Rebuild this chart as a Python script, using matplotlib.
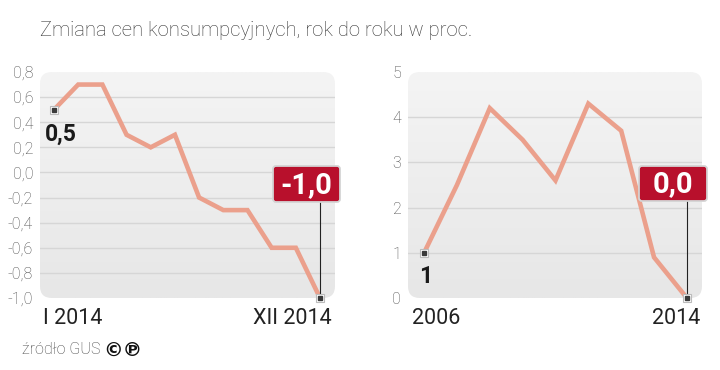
import numpy as np
import matplotlib
matplotlib.use("Agg")
import matplotlib.pyplot as plt
from matplotlib.patches import FancyBboxPatch
from matplotlib.colors import LinearSegmentedColormap

# data
months = ["I", "II", "III", "IV", "V", "VI", "VII", "VIII", "IX", "X", "XI", "XII"]
cpi_2014 = [0.5, 0.7, 0.7, 0.3, 0.2, 0.3, -0.2, -0.3, -0.3, -0.6, -0.6, -1.0]
left_ticks = [0.8, 0.6, 0.4, 0.2, 0.0, -0.2, -0.4, -0.6, -0.8, -1.0]

years = [2006, 2007, 2008, 2009, 2010, 2011, 2012, 2013, 2014]
cpi_years = [1.0, 2.5, 4.2, 3.5, 2.6, 4.3, 3.7, 0.9, 0.0]
right_ticks = [5, 4, 3, 2, 1, 0]

LINE = "#eba08c"
RED = "#b8102c"
FONT = "Roboto"

W, H = 720, 370
fig = plt.figure(figsize=(7.2, 3.7), dpi=100)
fig.patch.set_facecolor("white")


def px_axes(x0, y0, x1, y1):
    # pixel box (top-left origin) -> figure axes
    return fig.add_axes([x0 / W, 1 - y1 / H, (x1 - x0) / W, (y1 - y0) / H])


def pcomma(v, nd=1):
    return f"{v:.{nd}f}".replace(".", ",")


def value_box(x0, y0, x1, y1, label):
    # red rounded label box, pixel coords
    box = FancyBboxPatch((x0 / W, 1 - y1 / H), (x1 - x0) / W, (y1 - y0) / H,
                         boxstyle=f"round,pad=0,rounding_size={3 / W}",
                         mutation_aspect=W / H, transform=fig.transFigure,
                         facecolor=RED, edgecolor="#d4d4d4", lw=1.3, zorder=10)
    fig.add_artist(box)
    fig.text((x0 + x1) / 2 / W, 1 - ((y0 + y1) / 2 + 1) / H, label, fontsize=21,
             fontweight="bold", fontfamily=FONT, color="white",
             ha="center", va="center", zorder=11)


def draw_panel(ax, n, values, ticks, ylim, xpad, tick_fmt, wpx, hpx):
    ax.set_xlim(-xpad[0], n - 1 + xpad[1])
    ax.set_ylim(*ylim)
    for s in ax.spines.values():
        s.set_visible(False)

    # rounded gradient background
    bg = FancyBboxPatch((0, 0), 1, 1, boxstyle="round,pad=0,rounding_size=0.04",
                        mutation_aspect=wpx / hpx, transform=ax.transAxes,
                        facecolor="none", edgecolor="none", zorder=0)
    ax.add_patch(bg)
    grad = np.linspace(0, 1, 100).reshape(-1, 1)
    cmap = LinearSegmentedColormap.from_list("g", ["#f4f4f4", "#e7e7e7"])
    im = ax.imshow(grad, cmap=cmap, aspect="auto", extent=[0, 1, 0, 1],
                   origin="upper", transform=ax.transAxes, zorder=0)
    im.set_clip_path(bg)

    for t in ticks[1:-1]:
        ax.axhline(t, color="#d6d6d6", lw=1.0, zorder=1)

    ax.set_yticks(ticks)
    ax.set_yticklabels([tick_fmt(t) for t in ticks], fontsize=11.5,
                       color="#4a4a4a", fontfamily=FONT, fontweight="light")
    ax.tick_params(axis="y", length=0, pad=5)
    ax.set_xticks([])

    x = np.arange(n)
    ax.plot(x, values, color=LINE, lw=3.3, solid_joinstyle="miter", zorder=3)
    for i in (0, n - 1):
        ax.plot(x[i], values[i], marker="s", ms=5.5, mfc="white", mec="#bbbbbb",
                mew=0.8, clip_on=False, zorder=5)
        ax.plot(x[i], values[i], marker="s", ms=2.4, color="#3a3a3a",
                clip_on=False, zorder=6)


# left panel: months 2014
axl = px_axes(40, 72, 335, 298)
draw_panel(axl, len(months), cpi_2014, left_ticks, (-1.0, 0.8), (0.58, 0.62),
           lambda t: pcomma(t), 295, 226)
axl.text(-0.38, 0.30, pcomma(cpi_2014[0]), fontsize=16.5, fontweight="bold",
         fontfamily=FONT, color="#1a1a1a", ha="left", va="center", zorder=7)
axl.vlines(len(months) - 1, cpi_2014[-1], -0.22, color="#222222", lw=0.8, zorder=4)
value_box(273, 166, 340, 202, pcomma(cpi_2014[-1]))
fig.text(43 / W, 1 - 318 / H, f"{months[0]} 2014", fontsize=15.5, fontfamily=FONT,
         color="#222222", ha="left", va="center")
fig.text(332 / W, 1 - 318 / H, f"{months[-1]} 2014", fontsize=15.5, fontfamily=FONT,
         color="#222222", ha="right", va="center")

# right panel: years
axr = px_axes(408, 72, 702, 298)
draw_panel(axr, len(years), cpi_years, right_ticks, (0, 5), (0.49, 0.46),
           lambda t: f"{t:d}", 294, 226)
axr.text(0.06, 0.47, f"{cpi_years[0]:.0f}", fontsize=16.5, fontweight="bold",
         fontfamily=FONT, color="#1a1a1a", ha="center", va="center", zorder=7)
axr.vlines(len(years) - 1, cpi_years[-1], 2.2, color="#222222", lw=0.8, zorder=4)
value_box(639, 166, 707, 201, pcomma(cpi_years[-1]))
fig.text(412 / W, 1 - 318 / H, str(years[0]), fontsize=15.5, fontfamily=FONT,
         color="#222222", ha="left", va="center")
fig.text(700 / W, 1 - 318 / H, str(years[-1]), fontsize=15.5, fontfamily=FONT,
         color="#222222", ha="right", va="center")

# title and source
fig.text(40 / W, 1 - 30 / H, "Zmiana cen konsumpcyjnych, rok do roku w proc.",
         fontsize=14.6, fontfamily=FONT, fontweight="light", color="#333333",
         ha="left", va="center")
fig.text(22 / W, 1 - 350 / H, "źródło GUS", fontsize=11.5, fontfamily=FONT,
         fontweight="light", color="#444444", ha="left", va="center")
fig.text(103 / W, 1 - 350 / H, "©℗", fontsize=14, fontfamily="DejaVu Sans",
         fontweight="bold", color="#111111", ha="left", va="center")

fig.savefig("out.png", dpi=100)
